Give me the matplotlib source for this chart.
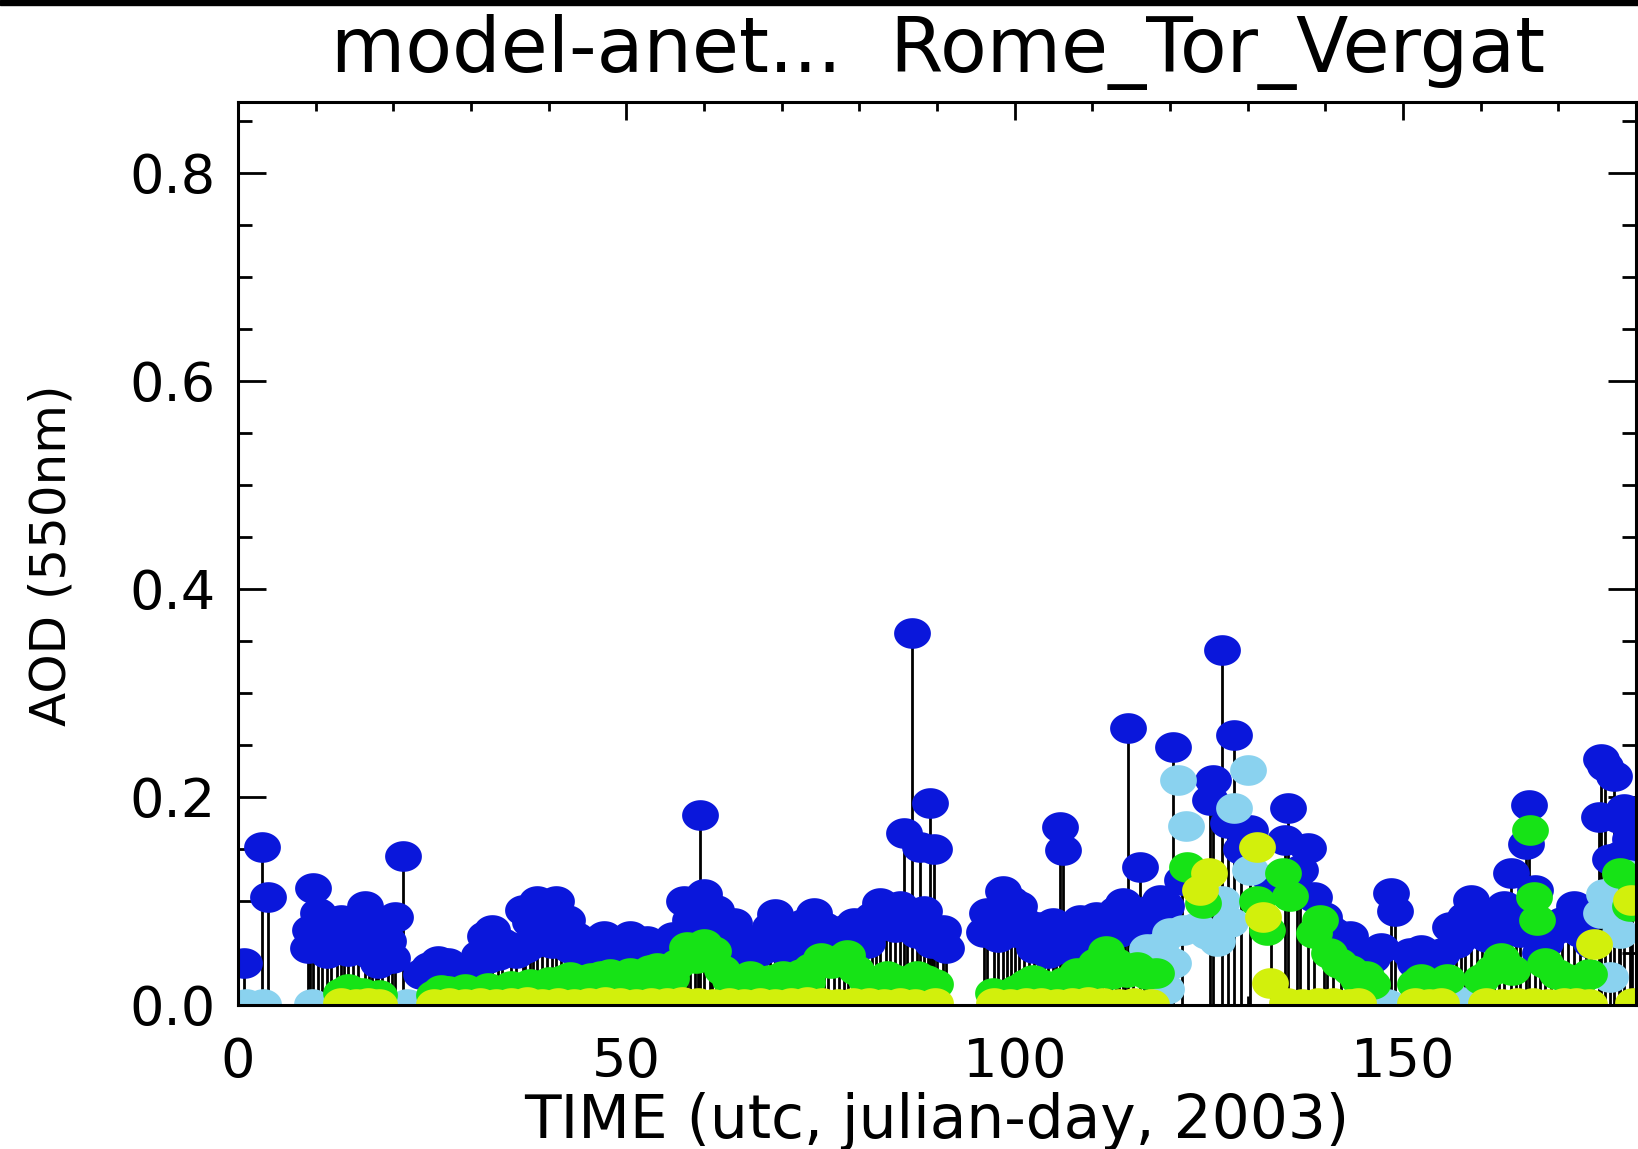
import matplotlib
matplotlib.use("Agg")
import matplotlib.pyplot as plt
import numpy as np
from matplotlib.path import Path
from matplotlib.markers import MarkerStyle
from matplotlib.patches import Rectangle
from matplotlib.ticker import MultipleLocator

plt.rcParams['font.family'] = ['DejaVu Sans']

# ---------------- data ----------------
title_text = "model-anet...  Rome_Tor_Vergat"
x_label = "TIME (utc, julian-day, 2003)"
y_label = "AOD (550nm)"
x_ticks = [0, 50, 100, 150]
y_ticks = [0.0, 0.2, 0.4, 0.6, 0.8]

# total AOD (blue, with stems)
blue_day = [0.8, 3.1, 3.8, 9.0, 9.3, 9.7, 10.3, 10.8, 11.5, 12.0, 12.8, 13.3, 13.7, 14.2,
            14.8, 15.5, 16.3, 16.9, 17.2, 17.8, 18.0, 18.5, 19.3, 19.8, 20.2, 21.2, 23.5,
            24.6, 25.0, 25.8, 26.4, 27.0, 27.8, 28.2, 29.0, 29.6, 30.4, 31.0, 31.8, 32.2,
            32.7, 33.5, 34.0, 35.2, 35.8, 36.7, 37.0, 37.6, 38.0, 38.5, 39.2, 39.8, 40.4,
            41.0, 41.6, 42.3, 42.8, 43.5, 44.2, 44.9, 45.4, 46.0, 46.6, 47.1, 47.8, 48.5,
            49.0, 49.5, 50.0, 50.5, 51.0, 51.6, 52.2, 52.6, 53.2, 53.7, 54.2, 54.8, 55.4,
            56.0, 56.6, 57.4, 57.8, 58.2, 58.8, 59.2, 59.5, 60.0, 60.8, 61.0, 61.6, 62.2,
            62.7, 63.3, 63.8, 64.2, 64.8, 65.3, 65.9, 66.5, 67.2, 67.8, 68.5, 69.2, 69.8,
            70.3, 71.0, 71.5, 72.2, 72.8, 73.4, 74.1, 74.8, 75.4, 76.0, 76.7, 77.4, 78.0,
            78.6, 79.3, 80.0, 80.5, 81.0, 81.6, 82.2, 82.7, 83.4, 84.0, 84.6, 85.3, 85.7,
            86.2, 86.8, 87.4, 87.8, 88.3, 88.8, 89.1, 89.3, 89.6, 90.0, 90.8, 91.2, 96.0,
            96.5, 97.3, 97.8, 98.5, 99.0, 99.5, 100.1, 100.6, 101.2, 101.9, 102.5, 103.0,
            103.8, 104.3, 104.9, 105.3, 105.8, 106.2, 106.8, 107.2, 107.8, 108.4, 109.0,
            109.5, 110.0, 110.5, 111.2, 111.8, 112.4, 113.0, 113.4, 113.9, 114.2, 114.6,
            115.2, 116.1, 116.6, 117.0, 117.8, 118.7, 119.0, 119.5, 120.4, 121.5, 125.2,
            125.6, 126.7, 127.5, 128.2, 129.2, 130.3, 133.0, 134.8, 135.2, 136.3, 136.8,
            137.8, 138.5, 139.8, 140.2, 141.0, 142.0, 142.6, 143.2, 144.5, 145.0, 146.0,
            147.2, 148.5, 149.0, 150.9, 151.5, 152.3, 153.0, 154.0, 155.0, 156.1, 156.8,
            157.5, 158.0, 158.7, 159.5, 160.2, 160.8, 161.7, 162.4, 163.0, 163.9, 164.5,
            165.0, 165.8, 166.2, 167.0, 167.7, 168.3, 169.0, 169.8, 170.5, 171.2, 172.0,
            172.8, 173.5, 174.2, 175.2, 175.5, 176.0, 176.6, 177.2, 177.8, 178.0, 178.5,
            179.2, 179.5, 180.0]
blue_aod = [0.040, 0.152, 0.104, 0.055, 0.072, 0.112, 0.088, 0.080, 0.050, 0.070, 0.060,
            0.082, 0.064, 0.052, 0.075, 0.060, 0.095, 0.050, 0.080, 0.060, 0.040, 0.048,
            0.062, 0.045, 0.085, 0.143, 0.030, 0.037, 0.030, 0.042, 0.032, 0.040, 0.030,
            0.035, 0.030, 0.036, 0.035, 0.048, 0.066, 0.045, 0.072, 0.048, 0.060, 0.056,
            0.050, 0.091, 0.055, 0.080, 0.060, 0.100, 0.075, 0.069, 0.060, 0.100, 0.070,
            0.082, 0.055, 0.065, 0.048, 0.059, 0.050, 0.062, 0.048, 0.066, 0.050, 0.058,
            0.048, 0.062, 0.052, 0.066, 0.050, 0.060, 0.048, 0.062, 0.045, 0.055, 0.048,
            0.056, 0.050, 0.065, 0.060, 0.100, 0.070, 0.082, 0.090, 0.060, 0.183, 0.107,
            0.090, 0.075, 0.091, 0.065, 0.080, 0.060, 0.079, 0.050, 0.065, 0.045, 0.056,
            0.048, 0.060, 0.055, 0.075, 0.087, 0.060, 0.070, 0.050, 0.066, 0.060, 0.078,
            0.065, 0.088, 0.060, 0.075, 0.055, 0.069, 0.055, 0.072, 0.060, 0.079, 0.058,
            0.070, 0.060, 0.085, 0.075, 0.098, 0.080, 0.092, 0.075, 0.095, 0.165, 0.080,
            0.358, 0.069, 0.152, 0.090, 0.070, 0.194, 0.060, 0.150, 0.066, 0.072, 0.055,
            0.070, 0.088, 0.080, 0.065, 0.110, 0.075, 0.100, 0.070, 0.095, 0.080, 0.069,
            0.055, 0.075, 0.060, 0.050, 0.079, 0.060, 0.171, 0.149, 0.055, 0.070, 0.050,
            0.082, 0.055, 0.075, 0.060, 0.085, 0.065, 0.080, 0.070, 0.090, 0.070, 0.098,
            0.080, 0.266, 0.085, 0.133, 0.075, 0.090, 0.080, 0.101, 0.075, 0.095, 0.248,
            0.120, 0.197, 0.216, 0.341, 0.175, 0.260, 0.150, 0.168, 0.120, 0.159, 0.189,
            0.110, 0.130, 0.151, 0.104, 0.085, 0.075, 0.070, 0.060, 0.050, 0.066, 0.050,
            0.040, 0.045, 0.055, 0.108, 0.090, 0.050, 0.040, 0.053, 0.040, 0.045, 0.050,
            0.075, 0.060, 0.065, 0.085, 0.101, 0.080, 0.070, 0.065, 0.082, 0.070, 0.095,
            0.127, 0.090, 0.070, 0.155, 0.192, 0.111, 0.050, 0.060, 0.070, 0.075, 0.080,
            0.075, 0.095, 0.070, 0.085, 0.060, 0.181, 0.236, 0.230, 0.140, 0.220, 0.180,
            0.143, 0.188, 0.160, 0.140, 0.120]

# light blue component
lblue_day = [1.0, 3.2, 9.5, 21.7, 68.7, 117.1, 118.7, 119.5, 120.0, 120.4, 121.0, 121.7,
             122.0, 123.5, 124.8, 126.0, 126.7, 127.7, 128.2, 130.1, 130.3, 147.9, 157.6,
             175.5, 175.9, 176.7, 178.0, 179.0]
lblue_aod = [0.001, 0.001, 0.001, 0.001, 0.003, 0.054, 0.056, 0.015, 0.069, 0.040, 0.216,
             0.072, 0.172, 0.075, 0.068, 0.062, 0.100, 0.080, 0.189, 0.226, 0.130, 0.001,
             0.003, 0.088, 0.107, 0.027, 0.069, 0.125]

# green component
green_day = [13.3, 14.2, 15.0, 16.0, 16.8, 18.2, 25.2, 26.2, 27.0, 28.5, 29.2, 30.0, 31.5,
             32.2, 33.0, 34.5, 35.2, 36.0, 37.0, 37.6, 38.2, 39.0, 40.0, 40.5, 41.2, 41.8,
             42.8, 43.5, 44.0, 45.0, 45.5, 46.8, 47.4, 47.9, 49.0, 49.8, 50.5, 51.2, 51.8,
             52.5, 53.0, 53.9, 55.0, 55.8, 56.5, 57.8, 59.0, 60.0, 61.2, 62.3, 63.4, 64.0,
             64.6, 65.9, 67.0, 67.8, 68.5, 69.5, 70.2, 71.3, 72.5, 73.2, 73.8, 75.0, 76.3,
             77.3, 78.4, 79.6, 80.8, 82.0, 82.8, 83.5, 84.7, 86.0, 87.4, 88.6, 89.7, 97.2,
             98.8, 100.2, 101.5, 102.4, 103.7, 105.0, 106.3, 107.2, 108.0, 109.3, 110.5,
             111.8, 112.4, 113.0, 114.4, 115.7, 117.0, 118.2, 122.2, 124.3, 131.2, 132.5,
             134.6, 135.5, 138.5, 139.3, 140.5, 141.8, 143.2, 144.2, 145.3, 146.0, 151.5,
             152.3, 153.8, 155.7, 160.0, 161.5, 162.6, 164.0, 166.4, 166.9, 167.2, 168.3,
             169.8, 171.2, 172.5, 174.0, 178.0, 179.2, 180.0]
green_aod = [0.012, 0.015, 0.009, 0.012, 0.008, 0.010, 0.010, 0.014, 0.013, 0.010, 0.015,
             0.008, 0.012, 0.016, 0.011, 0.010, 0.018, 0.015, 0.017, 0.020, 0.016, 0.018,
             0.022, 0.021, 0.018, 0.024, 0.027, 0.020, 0.024, 0.018, 0.026, 0.028, 0.020,
             0.030, 0.027, 0.022, 0.031, 0.024, 0.029, 0.025, 0.034, 0.036, 0.032, 0.026,
             0.039, 0.056, 0.045, 0.059, 0.052, 0.034, 0.024, 0.018, 0.022, 0.028, 0.020,
             0.016, 0.024, 0.018, 0.028, 0.022, 0.030, 0.022, 0.036, 0.045, 0.040, 0.043,
             0.048, 0.034, 0.024, 0.022, 0.018, 0.028, 0.024, 0.022, 0.028, 0.024, 0.020,
             0.012, 0.010, 0.014, 0.020, 0.024, 0.019, 0.016, 0.022, 0.018, 0.031, 0.024,
             0.040, 0.052, 0.030, 0.040, 0.032, 0.037, 0.030, 0.031, 0.133, 0.098, 0.100,
             0.072, 0.127, 0.105, 0.069, 0.082, 0.050, 0.040, 0.034, 0.025, 0.028, 0.020,
             0.020, 0.025, 0.020, 0.025, 0.025, 0.034, 0.045, 0.034, 0.168, 0.104, 0.082,
             0.040, 0.030, 0.025, 0.022, 0.030, 0.127, 0.095, 0.110]

# yellow-green component
yellow_day = [13.3, 15.2, 16.8, 18.2, 25.2, 27.2, 29.2, 31.2, 33.2, 35.2, 37.2, 39.2, 41.2,
              43.2, 45.2, 47.2, 49.2, 51.2, 53.2, 55.2, 57.2, 59.2, 61.2, 63.2, 65.2, 67.2,
              69.2, 71.2, 73.2, 75.2, 77.2, 79.2, 81.2, 83.2, 85.2, 87.2, 89.7, 97.4, 99.4,
              101.4, 103.4, 105.4, 107.4, 109.4, 111.4, 113.4, 115.4, 117.6, 123.9, 125.0,
              131.2, 132.0, 132.9, 135.0, 137.0, 139.0, 141.0, 143.0, 144.2, 151.6, 153.3,
              154.9, 160.7, 162.7, 164.7, 166.7, 168.7, 170.7, 172.3, 173.9, 174.6, 179.3,
              179.6]
yellow_aod = [0.002, 0.001, 0.002, 0.001, 0.001, 0.002, 0.001, 0.002, 0.001, 0.002, 0.003,
              0.001, 0.002, 0.001, 0.002, 0.003, 0.002, 0.001, 0.002, 0.002, 0.003, 0.002,
              0.001, 0.002, 0.001, 0.002, 0.001, 0.002, 0.003, 0.002, 0.001, 0.002, 0.002,
              0.001, 0.002, 0.001, 0.002, 0.002, 0.001, 0.002, 0.002, 0.001, 0.002, 0.003,
              0.002, 0.001, 0.002, 0.001, 0.111, 0.127, 0.152, 0.085, 0.021, 0.002, 0.001,
              0.002, 0.002, 0.001, 0.002, 0.002, 0.001, 0.002, 0.002, 0.001, 0.002, 0.002,
              0.001, 0.002, 0.002, 0.001, 0.059, 0.101, 0.002]

# ---------------- figure ----------------
W, H = 1638, 1149
fig = plt.figure(figsize=(W / 100, H / 100), dpi=100)
ax = fig.add_axes([238 / W, 1 - 1005 / H, 1398 / W, 903 / H])

# filled, slightly wide round symbol as in the picture
th = np.linspace(0, 2 * np.pi, 61)
sym = MarkerStyle(Path(np.column_stack([1.2 * np.cos(th), np.sin(th)])))
ms = 26.5

ax.vlines(blue_day, 0, blue_aod, color='black', lw=2.0, zorder=1)
ax.plot(blue_day, blue_aod, ls='none', marker=sym, ms=ms, mew=0, color='#0a17db', zorder=2)
ax.plot(lblue_day, lblue_aod, ls='none', marker=sym, ms=ms, mew=0, color='#8ad2ef', zorder=3)
ax.plot(green_day, green_aod, ls='none', marker=sym, ms=ms, mew=0, color='#16e316', zorder=4)
ax.plot(yellow_day, yellow_aod, ls='none', marker=sym, ms=ms, mew=0, color='#d2f00c', zorder=5)

ax.set_xlim(0, 180)
ax.set_ylim(0, 0.868)
ax.set_xticks(x_ticks)
ax.set_xticklabels([str(t) for t in x_ticks])
ax.set_yticks(y_ticks)
ax.set_yticklabels([f"{t:.1f}" for t in y_ticks])
ax.xaxis.set_minor_locator(MultipleLocator(10))
ax.yaxis.set_minor_locator(MultipleLocator(0.05))

for sp in ax.spines.values():
    sp.set_linewidth(2.2)
    sp.set_zorder(10)

ax.tick_params(axis='both', which='both', direction='in', top=True, right=True,
               width=2.0, labelsize=39, zorder=10)
ax.tick_params(axis='y', which='major', length=20, pad=16)
ax.tick_params(axis='y', which='minor', length=10)
ax.tick_params(axis='x', which='major', length=13, pad=22)
ax.tick_params(axis='x', which='minor', length=6.5)

fig.text(938 / W, 1 - 72 / H, title_text, ha='center', va='baseline', fontsize=55)
fig.text(937 / W, 1 - 1138 / H, x_label, ha='center', va='baseline', fontsize=43)
fig.text(52 / W, 1 - 555 / H, y_label, ha='center', va='center', rotation=90, fontsize=36)

# thin black band along the top edge of the image
fig.patches.append(Rectangle((0, 1 - 5 / H), 1, 5 / H, transform=fig.transFigure,
                             color='black', zorder=20))

fig.savefig("out.png", dpi=100)
